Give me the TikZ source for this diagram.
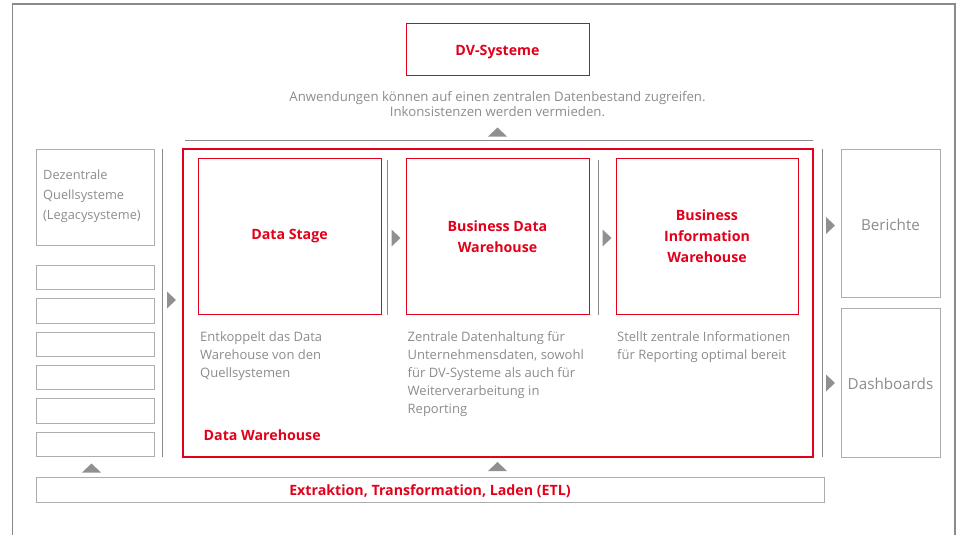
\documentclass[tikz,border=0pt]{standalone}
\usepackage{fontspec}
\setmainfont{Open Sans}
\usetikzlibrary{positioning}
\definecolor{rouge}{HTML}{E2001A}
\definecolor{gristexte}{HTML}{8C8C8C}
\definecolor{griscadre}{HTML}{ADADAD}
\definecolor{gristri}{HTML}{8E9193}
\definecolor{griscontour}{HTML}{8A8A8A}

% Triangles gris (vers la droite / vers le haut)
\newcommand{\triD}[1]{\fill[gristri] (#1) ++(-4.5,-8.5) -- ++(9,8.5) -- ++(-9,8.5) -- cycle;}
\newcommand{\triH}[1]{\fill[gristri] (#1) ++(-9.5,4.5) -- ++(9.5,-9) -- ++(9.5,9) -- cycle;}

\tikzset{
  boiterouge/.style={draw=rouge, line width=1pt, text=rouge, align=center, inner sep=0pt,
    font=\bfseries\fontsize{14.2}{21}\selectfont},
  boitegrise/.style={draw=griscadre, line width=1pt, text=gristexte, inner sep=0pt,
    font=\fontsize{15.2}{18}\selectfont},
  descr/.style={text=gristexte, align=left, anchor=north west, inner sep=0pt,
    font=\fontsize{13}{18}\selectfont},
  trait/.style={draw=griscontour, line width=0.9pt},
}

\begin{document}
\begin{tikzpicture}[x=1pt,y=-1pt]
    \useasboundingbox (0,0) rectangle (959,535);
    % Cadre extérieur (ouvert en bas)
    \draw[trait, line width=1.2pt] (12.5,535) -- (12.5,4) -- (955,4) -- (955,535);

    % DV-Systeme en haut
    \node[boiterouge, minimum width=183pt, minimum height=52pt, text height=12pt, text depth=0pt]
        (dv) at (497.5,49.5) {DV-Systeme};
    \node[text=gristexte, align=center, inner sep=0pt, font=\fontsize{13.2}{15}\selectfont]
        (acces) at (497.5,104.5) {Anwendungen können auf einen zentralen Datenbestand zugreifen.\\
        Inkonsistenzen werden vermieden.};
    \triH{497.5,132}

    % Data Warehouse (cadre rouge) et ses trois couches
    \draw[draw=rouge, line width=1.1pt] (183,149) rectangle (813,457);
    \coordinate (dwno) at (183,149);
    \coordinate (dwne) at (813,149);
    \draw[trait] ([xshift=2pt,yshift=9pt]dwno) -- ([yshift=9pt]dwne);
    \node[boiterouge, minimum width=183pt, minimum height=156pt] (stage) at (289.5,236.5) {Data Stage\vphantom{g}};
    \node[boiterouge, minimum width=183pt, minimum height=156pt] (bdw) at (497.5,236.5) {Business Data\\Warehouse};
    \node[boiterouge, minimum width=182pt, minimum height=156pt] (biw) at (707,236.5) {Business\\Information\\Warehouse};
    \draw[trait] (387,160) -- (387,315);
    \draw[trait] (598,160) -- (598,315);
    \triD{396,238}
    \triD{607,238}

    % Descriptions sous les couches
    \node[descr] (dstage) at (200,331.5) {Entkoppelt das Data\\Warehouse von den\\Quellsystemen};
    \node[descr] (dbdw) at (407.5,331.5) {Zentrale Datenhaltung für\\Unternehmensdaten, sowohl\\für DV-Systeme als auch für\\Weiterverarbeitung in\\Reporting};
    \node[descr] (dbiw) at (617,331.5) {Stellt zentrale Informationen\\für Reporting optimal bereit};
    \node[anchor=west, inner sep=0pt, text=rouge, font=\bfseries\fontsize{14.2}{15}\selectfont]
        (ldw) at (203.5,435.5) {Data Warehouse};

    % Sources à gauche
    \node[boitegrise, minimum width=118pt, minimum height=96pt] (quelle) at (95,197) {};
    \node[descr, font=\fontsize{12.8}{20}\selectfont] (tquelle) at (43,169.5)
        {Dezentrale\\Quellsysteme\\(Legacysysteme)};
    \foreach \i in {0,...,5}
        \node[boitegrise, minimum width=118pt, minimum height=24.5pt] (src\i) at (95,277.5+\i*33.4) {};
    \draw[trait] (162,149) -- (162,457);
    \triD{171.5,300}

    % Sorties à droite
    \draw[trait] (822,149) -- (822,457);
    \node[boitegrise, minimum width=99pt, minimum height=148pt, text height=14pt, text depth=0pt]
        (berichte) at (890.5,223) {Berichte};
    \node[boitegrise, minimum width=99pt, minimum height=149pt, text height=13pt, text depth=0pt]
        (dash) at (890.5,382.5) {Dashboards};
    \triD{830.5,225.5}
    \triD{830.5,383}

    % ETL en bas
    \triH{91.5,468}
    \triH{497.5,466.5}
    \node[boitegrise, minimum width=788pt, minimum height=25pt, text height=12pt, text depth=0pt,
        text=rouge, font=\bfseries\fontsize{14.2}{15}\selectfont] (etl) at (430,489.5)
        {Extraktion, Transformation, Laden (ETL)};
\end{tikzpicture}
\end{document}
